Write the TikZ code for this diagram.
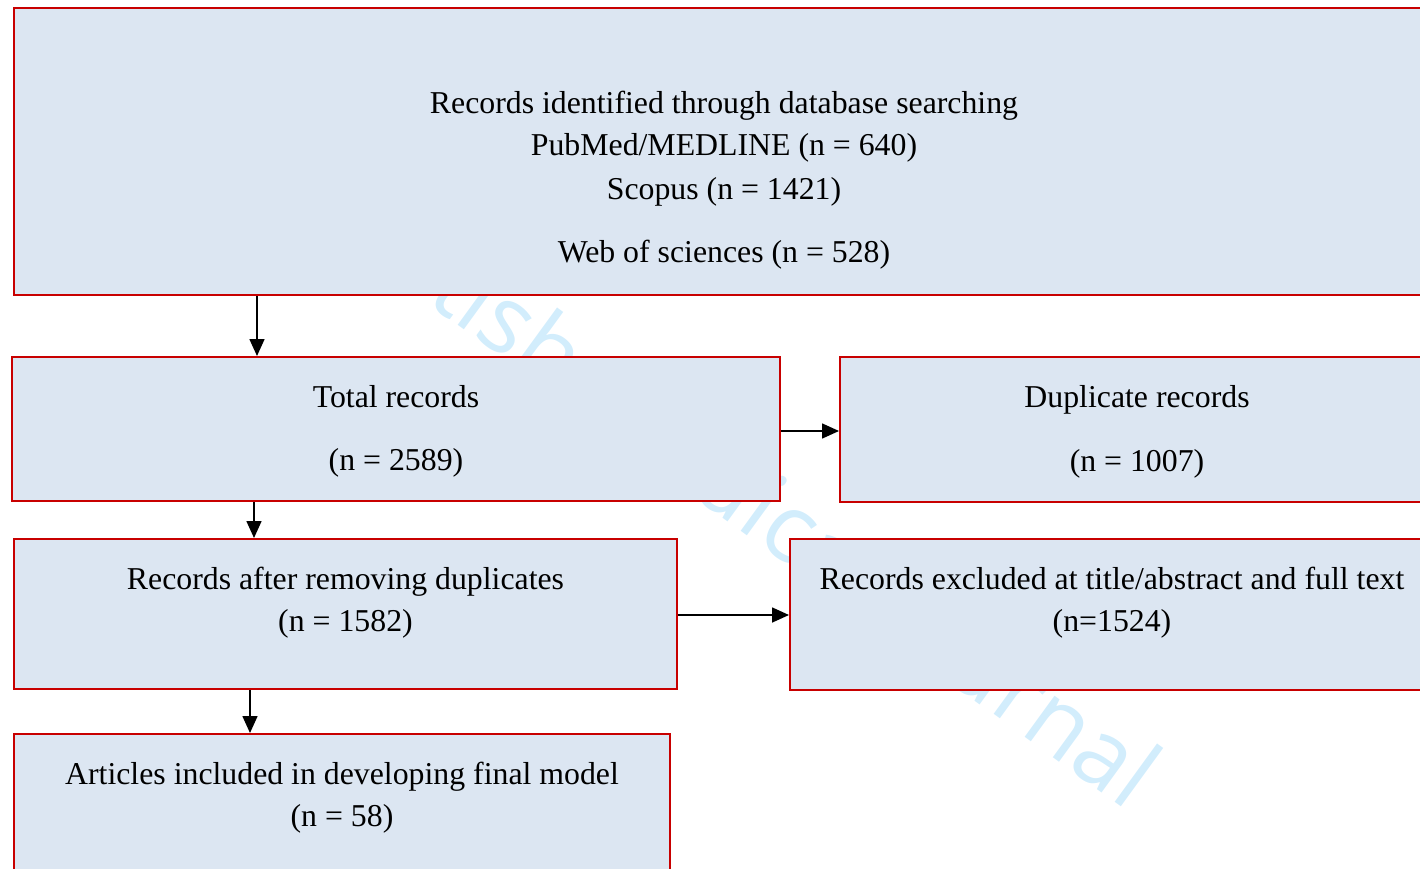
\documentclass[tikz,border=0pt]{standalone}
\usepackage{fontspec}
\setmainfont{Liberation Serif}
\newfontfamily\markfont{Open Sans}
\usetikzlibrary{arrows.meta}
\definecolor{boxfill}{RGB}{220,230,242}
\definecolor{boxline}{RGB}{200,0,0}
\definecolor{markblue}{RGB}{210,237,252}
\begin{document}
\begin{tikzpicture}[x=1pt,y=-1pt,
  box/.style={draw=boxline,fill=boxfill,line width=2pt,rectangle,inner sep=0pt},
  txt/.style={anchor=base,inner sep=0pt,font=\fontsize{31.8}{38}\selectfont},
  arr/.style={-{Triangle[length=17pt,width=15pt]},line width=1.6pt},
  wmark/.style={inner sep=0pt,text=markblue,font=\markfont\fontsize{95}{95}\selectfont}]
\useasboundingbox (0,0) rectangle (1420,869);
\clip (0,0) rectangle (1420,869);

% background mark
\node[wmark,rotate=-36,anchor=base east] (wm) at (1128,812) {British Medical Journal};

% boxes
\node[box,minimum width=1420pt,minimum height=287pt] (top) at (724,151.5) {};
\node[box,minimum width=768pt,minimum height=144pt] (total) at (396,429) {};
\node[box,minimum width=594pt,minimum height=145pt] (dup) at (1137,429.5) {};
\node[box,minimum width=663pt,minimum height=150pt] (after) at (345.5,614) {};
\node[box,minimum width=644pt,minimum height=151pt] (excl) at (1112,614.5) {};
\node[box,minimum width=656pt,minimum height=171pt] (art) at (342,819.5) {};

% texts
\node[txt] (t1a) at (724,114) {Records identified through database searching};
\node[txt] (t1b) at (724,156) {PubMed/MEDLINE (n = 640)};
\node[txt] (t1c) at (724,199) {Scopus (n = 1421)};
\node[txt] (t1d) at (724,262) {Web of sciences (n = 528)};
\node[txt] (t2a) at (396,407) {Total records};
\node[txt] (t2b) at (396,470) {(n = 2589)};
\node[txt] (t3a) at (1137,407) {Duplicate records};
\node[txt] (t3b) at (1137,471) {(n = 1007)};
\node[txt] (t4a) at (345.5,589) {Records after removing duplicates};
\node[txt] (t4b) at (345.5,631) {(n = 1582)};
\node[txt] (t5a) at (1112,589) {Records excluded at title/abstract and full text};
\node[txt] (t5b) at (1112,631) {(n=1524)};
\node[txt] (t6a) at (342,784) {Articles included in developing final model};
\node[txt] (t6b) at (342,826) {(n = 58)};

% connectors
\coordinate (c1) at (257,0);
\coordinate (c2) at (254,0);
\coordinate (c3) at (250,0);
\coordinate (r1) at (0,431);
\coordinate (r2) at (0,615);
\draw[arr] (c1 |- top.south) -- (c1 |- total.north);
\draw[arr] (c2 |- total.south) -- (c2 |- after.north);
\draw[arr] (c3 |- after.south) -- (c3 |- art.north);
\draw[arr] (total.east |- r1) -- (dup.west |- r1);
\draw[arr] (after.east |- r2) -- (excl.west |- r2);
\end{tikzpicture}
\end{document}
